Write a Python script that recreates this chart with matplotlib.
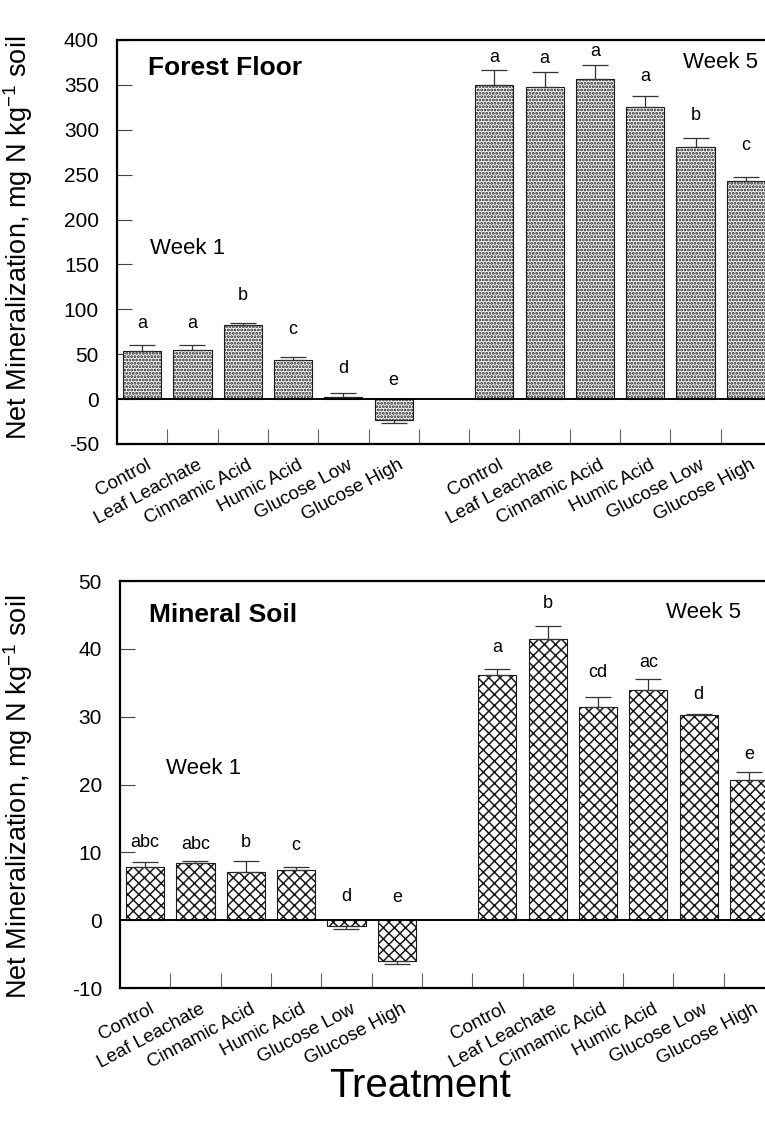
import matplotlib
matplotlib.use('Agg')
import matplotlib.pyplot as plt
import matplotlib.transforms as mtransforms
import numpy as np

plt.rcParams['font.family'] = ['Liberation Sans', 'DejaVu Sans']
plt.rcParams['mathtext.fontset'] = 'custom'
plt.rcParams['mathtext.rm'] = 'Liberation Sans'
plt.rcParams['mathtext.default'] = 'regular'
plt.rcParams['axes.unicode_minus'] = False

treatments = ['Control', 'Leaf Leachate', 'Cinnamic Acid', 'Humic Acid',
              'Glucose Low', 'Glucose High']

# forest floor, mg N / kg soil
ff_week1 = [54, 55, 82, 43, 2.5, -23.5]
ff_week1_err = [6, 5, 2.7, 4, 3.8, 2.9]
ff_week1_letters = ['a', 'a', 'b', 'c', 'd', 'e']
ff_week1_letter_y = [84.6, 84.6, 115, 77, 34.5, 21]
ff_week5 = [350, 348, 357, 325, 281, 243]
ff_week5_err = [16, 16.5, 15, 12.4, 10, 4.6]
ff_week5_letters = ['a', 'a', 'a', 'a', 'b', 'c']
ff_week5_letter_y = [381, 379, 387, 359, 316, 282]

# mineral soil, mg N / kg soil
ms_week1 = [7.9, 8.5, 7.1, 7.4, -0.9, -5.95]
ms_week1_err = [0.7, 0.3, 1.6, 0.5, 0.4, 0.5]
ms_week1_letters = ['abc', 'abc', 'b', 'c', 'd', 'e']
ms_week1_letter_y = [11.4, 11.2, 11.5, 11.0, 3.5, 3.3]
ms_week5 = [36.1, 41.4, 31.4, 34.0, 30.2, 20.6]
ms_week5_err = [0.9, 2.0, 1.5, 1.5, 0.15, 1.2]
ms_week5_letters = ['a', 'b', 'cd', 'ac', 'd', 'e']
ms_week5_letter_y = [40.2, 46.7, 36.5, 38, 33.3, 24.5]

ff_yticks = [-50, 0, 50, 100, 150, 200, 250, 300, 350, 400]
ms_yticks = [-10, 0, 10, 20, 30, 40, 50]


def one_sided(vals, errs):
    # error bar only points away from zero
    lo = [e if v < 0 else 0 for v, e in zip(vals, errs)]
    hi = [e if v >= 0 else 0 for v, e in zip(vals, errs)]
    return [lo, hi]


def panel(ax, w1, w1e, w1l, w1y, w5, w5e, w5l, w5y, hatch, hatch_lw,
          yticks, title, label_pos):
    n = len(treatments)
    x1 = np.arange(n)
    x5 = np.arange(n) + n + 1
    for x, vals, errs, letters, ly in [(x1, w1, w1e, w1l, w1y),
                                       (x5, w5, w5e, w5l, w5y)]:
        with plt.rc_context({'hatch.linewidth': hatch_lw}):
            ax.bar(x, vals, width=0.76, color='white', edgecolor='#1a1a1a',
                   linewidth=0.8, hatch=hatch, zorder=2)
        ax.errorbar(x, vals, yerr=one_sided(vals, errs), fmt='none',
                    ecolor='#333333', elinewidth=0.9, capsize=9.5,
                    capthick=0.9, zorder=3)
        for xi, t, yy in zip(x, letters, ly):
            ax.text(xi, yy, t, ha='center', va='center', fontsize=13)

    ax.axhline(0, color='black', lw=1.4, zorder=4)
    ax.set_xlim(-0.5, 2 * n + 0.5)
    ax.set_ylim(yticks[0], yticks[-1])
    ax.set_yticks(yticks)
    ax.tick_params(axis='y', direction='in', length=11, width=0.8,
                   color='#444444', labelsize=15, pad=13)
    ax.tick_params(axis='x', which='major', direction='in', length=11,
                   width=0.8, color='#666666', labelbottom=False)
    ax.set_xticks(np.arange(2 * n) + 0.5)
    centers = np.concatenate([x1, x5])
    ax.set_xticks(centers, minor=True)
    ax.set_xticklabels(treatments * 2, minor=True)
    ax.tick_params(axis='x', which='minor', length=0, pad=9, labelsize=13.5)
    offset = mtransforms.ScaledTranslation(4 / 100, 0, ax.figure.dpi_scale_trans)
    for lab in ax.get_xticklabels(minor=True):
        lab.set_rotation(28)
        lab.set_ha('right')
        lab.set_va('top')
        lab.set_rotation_mode('anchor')
        lab.set_transform(lab.get_transform() + offset)
    for s in ax.spines.values():
        s.set_linewidth(1.6)
    ax.spines['right'].set_visible(False)

    ax.text(label_pos[0][0], label_pos[0][1], title, transform=ax.transAxes,
            fontsize=19, fontweight='bold', va='center', ha='left')
    ax.text(label_pos[1][0], label_pos[1][1], 'Week 1', transform=ax.transAxes,
            fontsize=16, va='center', ha='left')
    ax.text(label_pos[2][0], label_pos[2][1], 'Week 5', transform=ax.transAxes,
            fontsize=16, va='center', ha='left')
    ax.set_ylabel('Net Mineralization, mg N kg$^{-1}$ soil', fontsize=19.5)


fig = plt.figure(figsize=(7.65, 11.22), dpi=100)
ax1 = fig.add_axes([0.1529, 0.6043, 0.855, 0.3601])
ax2 = fig.add_axes([0.1569, 0.1194, 0.855, 0.3627])

panel(ax1, ff_week1, ff_week1_err, ff_week1_letters, ff_week1_letter_y,
      ff_week5, ff_week5_err, ff_week5_letters, ff_week5_letter_y,
      '.....', 1.4, ff_yticks, 'Forest Floor',
      [(0.047, 0.93), (0.05, 0.485), (0.865, 0.943)])
panel(ax2, ms_week1, ms_week1_err, ms_week1_letters, ms_week1_letter_y,
      ms_week5, ms_week5_err, ms_week5_letters, ms_week5_letter_y,
      'xxx', 1.1, ms_yticks, 'Mineral Soil',
      [(0.044, 0.916), (0.070, 0.54), (0.835, 0.922)])

ax1.yaxis.set_label_coords(-0.125, 0.51)
ax2.yaxis.set_label_coords(-0.130, 0.47)

fig.text(0.549, 1 - 1086 / 1122, 'Treatment', fontsize=29,
         ha='center', va='center')

fig.savefig('out.png', dpi=100)
